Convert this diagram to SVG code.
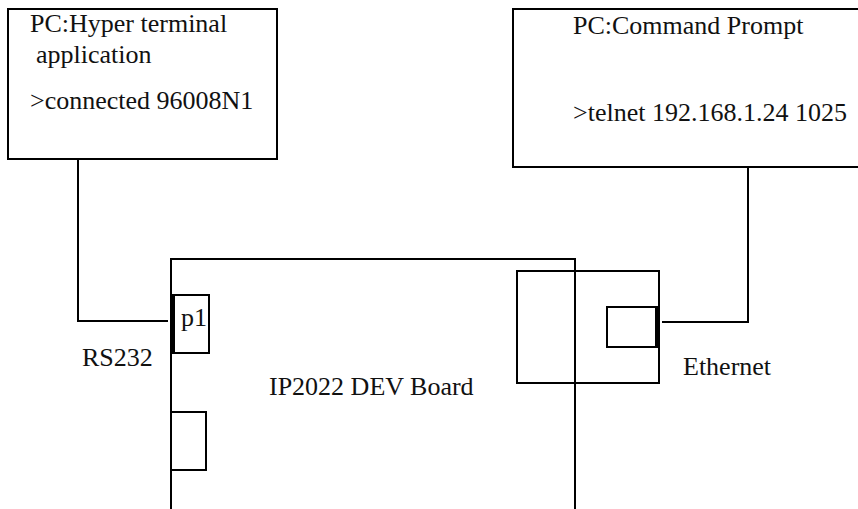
<svg xmlns="http://www.w3.org/2000/svg" width="858" height="509" viewBox="0 0 858 509">
<style>
.s{fill:none;stroke:#000;stroke-width:2}
.t{font-family:"Liberation Serif","Times New Roman",serif;font-size:26px;fill:#111}
</style>
<rect width="858" height="509" fill="#fff"/>
<g id="pc-hyper">
<rect class="s" x="8" y="9" width="269" height="150"/>
<text class="t" x="30" y="32">PC:Hyper terminal</text>
<text class="t" x="36" y="63">application</text>
<text class="t" x="30" y="109">&gt;connected 96008N1</text>
</g>
<g id="pc-cmd">
<rect class="s" x="513" y="9" width="360" height="158"/>
<text class="t" x="573" y="34">PC:Command Prompt</text>
<text class="t" x="573" y="121">&gt;telnet 192.168.1.24 1025</text>
</g>
<g id="board">
<polyline class="s" points="171,509 171,259 575,259 575,509"/>
<text class="t" x="269" y="395">IP2022 DEV Board</text>
</g>
<g id="p1">
<rect class="s" x="173" y="295" width="36" height="58"/>
<line x1="173" y1="295" x2="173" y2="353" stroke="#000" stroke-width="4"/>
<text class="t" x="181" y="326">p1</text>
</g>
<g id="port2">
<rect class="s" x="171" y="412" width="35" height="58"/>
</g>
<g id="ethernet-jack">
<rect class="s" x="517" y="271" width="142" height="112"/>
<rect class="s" x="607" y="307" width="50" height="40"/>
<line x1="657" y1="307" x2="657" y2="347" stroke="#000" stroke-width="4"/>
</g>
<g id="connectors">
<polyline class="s" points="78,160 78,321 168,321"/>
<polyline class="s" points="748,168 748,322 662,322"/>
</g>
<g id="labels">
<text class="t" x="82" y="366">RS232</text>
<text class="t" x="683" y="375">Ethernet</text>
</g>
</svg>
